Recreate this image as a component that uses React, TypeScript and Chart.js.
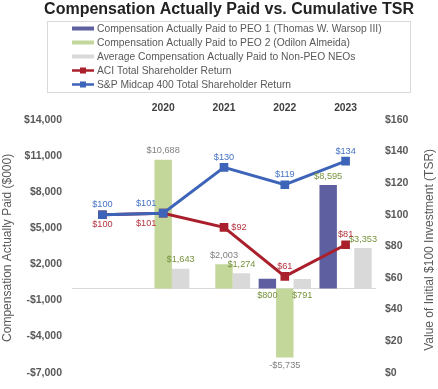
import React, { useEffect, useRef } from "react";
import { Chart, registerables } from "chart.js";

Chart.register(...registerables);

const categories = ["", "2020", "2021", "2022", "2023"];
const peo1Values = [null, null, null, 800, 8595];
const peo2Values = [null, 10688, 2003, -5735, null];
const neoValues = [null, 1643, 1274, 791, 3353];
const aciTsr = [100, 101, 92, 61, 81];
const spTsr = [100, 101, 130, 119, 134];

const leftTicks = { min: -7000, max: 14000, step: 3000 };
const rightTicks = { min: 0, max: 160, step: 20 };

const seriesNames = [
  "Compensation Actually Paid to PEO 1 (Thomas W. Warsop III)",
  "Compensation Actually Paid to PEO 2 (Odilon Almeida)",
  "Average Compensation Actually Paid to Non-PEO NEOs",
  "ACI Total Shareholder Return",
  "S&P Midcap 400 Total Shareholder Return",
];

const titleText = "Compensation Actually Paid vs. Cumulative TSR";
const leftTitle = "Compensation Actually Paid ($000)";
const rightTitle = "Value of Initial $100 Investment (TSR)";

// label placements (keywords, not coordinates)
const peo1Place = ["", "", "", "belowBase", "end"];
const peo2Place = ["", "end", "end", "end", ""];
const neoPlace = ["", "end", "end", "belowBase", "end"];
const aciPlace = ["below", "belowLeft", "right", "above", "above"];
const spPlace = ["above", "aboveLeft", "above", "above", "above"];

const PURPLE = "#5e5fa0";
const GREEN = "#c4d79b";
const GREY = "#d9d9d9";
const RED = "#a9202c";
const BLUE = "#3d64b8";
const FONT = "'Liberation Sans', Arial, sans-serif";
const TICK = "#595959";

const money = (v: number) => (v < 0 ? "-$" : "$") + Math.abs(v).toLocaleString("en-US");

const decorPlugin = {
  id: "decor",
  beforeDatasetsDraw(chart: any) {
    const { ctx, chartArea, scales } = chart;
    const y0 = Math.round(scales.y.getPixelForValue(0)) + 0.5;
    ctx.save();
    ctx.strokeStyle = "#d9d9d9";
    ctx.lineWidth = 1;
    ctx.beginPath();
    ctx.moveTo(chartArea.left, y0);
    ctx.lineTo(chartArea.right, y0);
    ctx.stroke();
    ctx.restore();
  },
  afterDatasetsDraw(chart: any) {
    const { ctx, scales } = chart;
    const base = scales.y.getPixelForValue(0);
    ctx.save();
    ctx.font = `9.2px ${FONT}`;
    ctx.textAlign = "center";
    ctx.textBaseline = "middle";
    const barSets = [
      { idx: 0, place: peo1Place, color: "#77933c" },
      { idx: 1, place: peo2Place, color: "#808080" },
      { idx: 2, place: neoPlace, color: "#77933c" },
    ];
    barSets.forEach((s) => {
      const meta = chart.getDatasetMeta(s.idx);
      const data = chart.data.datasets[s.idx].data;
      meta.data.forEach((el: any, i: number) => {
        const v = data[i];
        if (v === null || v === undefined) return;
        let y = el.y;
        const p = s.place[i];
        if (p === "end") y = v >= 0 ? el.y - 9 : el.y + 8;
        else if (p === "belowBase") y = base + 7;
        ctx.fillStyle = s.color;
        ctx.fillText(money(v), el.x, y);
      });
    });
    const lineSets = [
      { idx: 3, place: aciPlace, color: "#b5333e" },
      { idx: 4, place: spPlace, color: "#4472c4" },
    ];
    lineSets.forEach((s) => {
      const meta = chart.getDatasetMeta(s.idx);
      const data = chart.data.datasets[s.idx].data;
      meta.data.forEach((el: any, i: number) => {
        const v = data[i];
        let dx = 0, dy = 0;
        const p = s.place[i];
        if (p === "above") dy = -10;
        else if (p === "below") dy = 10;
        else if (p === "right") dx = 15;
        else if (p === "aboveLeft") { dx = -17; dy = -10; }
        else if (p === "belowLeft") { dx = -17; dy = 10; }
        ctx.fillStyle = s.color;
        ctx.fillText("$" + v, el.x + dx, el.y + dy);
      });
    });
    ctx.restore();
  },
  afterDraw(chart: any) {
    const { ctx, chartArea } = chart;
    ctx.save();
    // title
    ctx.fillStyle = "#222222";
    ctx.font = `bold 16px ${FONT}`;
    ctx.textAlign = "center";
    ctx.textBaseline = "middle";
    ctx.fillText(titleText, 229, 10);
    // legend box
    ctx.strokeStyle = "#d9d9d9";
    ctx.lineWidth = 1;
    ctx.strokeRect(47.5, 21.5, 363, 71);
    const colors = [PURPLE, GREEN, GREY, RED, BLUE];
    ctx.font = `10.3px ${FONT}`;
    ctx.textAlign = "left";
    seriesNames.forEach((name, i) => {
      const cy = 28.5 + i * 14;
      if (i < 3) {
        ctx.fillStyle = colors[i];
        ctx.fillRect(72, cy - 2, 22, 4);
      } else {
        ctx.strokeStyle = colors[i];
        ctx.lineWidth = 2.5;
        ctx.beginPath();
        ctx.moveTo(72, cy);
        ctx.lineTo(94, cy);
        ctx.stroke();
        ctx.fillStyle = colors[i];
        ctx.fillRect(80, cy - 3, 6, 6);
      }
      ctx.fillStyle = TICK;
      ctx.fillText(name, 97, cy + 0.5);
    });
    // axis titles
    const midY = (chartArea.top + chartArea.bottom) / 2 + 1.5;
    ctx.font = `12px ${FONT}`;
    ctx.fillStyle = TICK;
    ctx.textAlign = "center";
    ctx.save();
    ctx.translate(8, midY);
    ctx.rotate(-Math.PI / 2);
    ctx.fillText(leftTitle, 0, 0);
    ctx.restore();
    ctx.save();
    ctx.translate(430, midY + 2);
    ctx.rotate(-Math.PI / 2);
    ctx.fillText(rightTitle, 0, 0);
    ctx.restore();
    ctx.restore();
  },
};

export default function App() {
  const ref = useRef<HTMLCanvasElement | null>(null);
  useEffect(() => {
    if (!ref.current) return;
    const tickFont = { family: FONT, size: 10.5, weight: "bold" as const };
    const chart = new Chart(ref.current, {
      type: "bar",
      data: {
        labels: categories,
        datasets: [
          { type: "bar", label: seriesNames[0], data: peo1Values as any, backgroundColor: PURPLE, yAxisID: "y", order: 2, categoryPercentage: 0.86, barPercentage: 1 },
          { type: "bar", label: seriesNames[1], data: peo2Values as any, backgroundColor: GREEN, yAxisID: "y", order: 2, categoryPercentage: 0.86, barPercentage: 1 },
          { type: "bar", label: seriesNames[2], data: neoValues as any, backgroundColor: GREY, yAxisID: "y", order: 2, categoryPercentage: 0.86, barPercentage: 1 },
          { type: "line", label: seriesNames[3], data: aciTsr, borderColor: RED, backgroundColor: RED, borderWidth: 3, pointStyle: "rect", pointRadius: 4, yAxisID: "y1", order: 1, tension: 0 },
          { type: "line", label: seriesNames[4], data: spTsr, borderColor: BLUE, backgroundColor: BLUE, borderWidth: 3, pointStyle: "rect", pointRadius: 4, yAxisID: "y1", order: 0, tension: 0 },
        ] as any,
      },
      options: {
        responsive: false,
        animation: false,
        layout: { padding: { top: 98, bottom: 8, left: 0, right: 0 } },
        plugins: { legend: { display: false }, tooltip: { enabled: false }, title: { display: false } },
        scales: {
          x: {
            position: "top",
            offset: true,
            grid: { display: false, drawTicks: false },
            border: { display: false },
            ticks: { color: "#404040", font: { family: FONT, size: 10.3, weight: "bold" }, padding: 6, maxRotation: 0 },
            afterFit: (s: any) => { s.height = 22; },
          },
          y: {
            position: "left",
            min: leftTicks.min,
            max: leftTicks.max,
            grid: { display: false, drawTicks: false },
            border: { display: false },
            ticks: { stepSize: leftTicks.step, color: TICK, font: tickFont, padding: 10, callback: (v: any) => money(Number(v)) },
            afterFit: (s: any) => { s.width = 72; },
          },
          y1: {
            position: "right",
            min: rightTicks.min,
            max: rightTicks.max,
            grid: { display: false, drawTicks: false },
            border: { display: false },
            ticks: { stepSize: rightTicks.step, color: TICK, font: tickFont, padding: 9, callback: (v: any) => "$" + v },
            afterFit: (s: any) => { s.width = 62; },
          },
        },
      } as any,
      plugins: [decorPlugin],
    });
    return () => chart.destroy();
  }, []);
  return (
    <div style={{ position: "fixed", left: 0, top: 0, width: 438, height: 389, background: "#fff" }}>
      <canvas ref={ref} width={438} height={389} />
    </div>
  );
}
